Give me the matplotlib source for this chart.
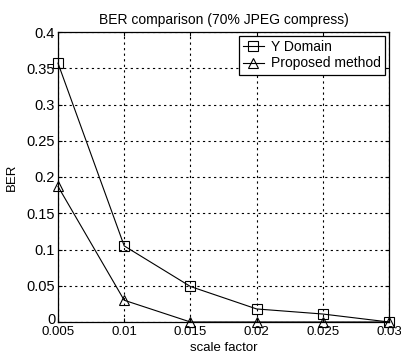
import matplotlib
matplotlib.use("Agg")
import matplotlib.pyplot as plt
import matplotlib.transforms as mtransforms

scale = [0.005, 0.01, 0.015, 0.02, 0.025, 0.03]
y_domain = [0.357, 0.105, 0.049, 0.018, 0.011, 0.0]
proposed = [0.187, 0.030, 0.0, 0.0, 0.0, 0.0]
xticks = [0.005, 0.01, 0.015, 0.02, 0.025, 0.03]
xticklabels = ["0.005", "0.01", "0.015", "0.02", "0.025", "0.03"]
yticks = [0, 0.05, 0.1, 0.15, 0.2, 0.25, 0.3, 0.35, 0.4]
yticklabels = ["0", "0.05", "0.1", "0.15", "0.2", "0.25", "0.3", "0.35", "0.4"]

plt.rcParams['font.family'] = ['Liberation Sans', 'DejaVu Sans']
fig = plt.figure(figsize=(4.02, 3.61), dpi=100)
ax = fig.add_axes([58/402, (361-322)/361, (389-58)/402, (322-32)/361])

ax.plot(scale, y_domain, color='black', lw=0.8, marker='s', ms=7, mfc='none', mec='black', mew=0.8, label='Y Domain', clip_on=False, zorder=3)
ax.plot(scale, proposed, color='black', lw=0.8, marker='^', ms=7, mfc='none', mec='black', mew=0.8, label='Proposed method', clip_on=False, zorder=3)

ax.set_xlim(0.005, 0.03)
ax.set_ylim(0, 0.4)
ax.set_xticks(xticks)
ax.set_xticklabels(xticklabels, fontsize=9.5)
ax.set_yticks(yticks)
ax.set_yticklabels(yticklabels, fontsize=10.5)
ax.tick_params(direction='in', length=3, top=True, right=True, pad=2)
ax.tick_params(axis='x', pad=3)
# nudge the "0" y label up slightly so it does not collide with "0.005"
lab0 = ax.get_yticklabels()[0]
lab0.set_transform(lab0.get_transform() + mtransforms.ScaledTranslation(0, 4/100, fig.dpi_scale_trans))
ax.grid(True, linestyle=(0, (2, 3)), color='black', lw=0.8)
for s in ax.spines.values():
    s.set_linewidth(0.9)
ax.set_title('BER comparison (70% JPEG compress)', fontsize=10, pad=6)
ax.set_xlabel('scale factor', fontsize=9.5, labelpad=3)
ax.set_ylabel('BER', fontsize=9.5, labelpad=6)
leg = ax.legend(loc='upper right', fontsize=10, frameon=True, fancybox=False, edgecolor='black', framealpha=1, handlelength=1.5, borderaxespad=0.3, handletextpad=0.5, borderpad=0.3, labelspacing=0.15)
leg.get_frame().set_linewidth(0.9)
fig.savefig('out.png', dpi=100)
